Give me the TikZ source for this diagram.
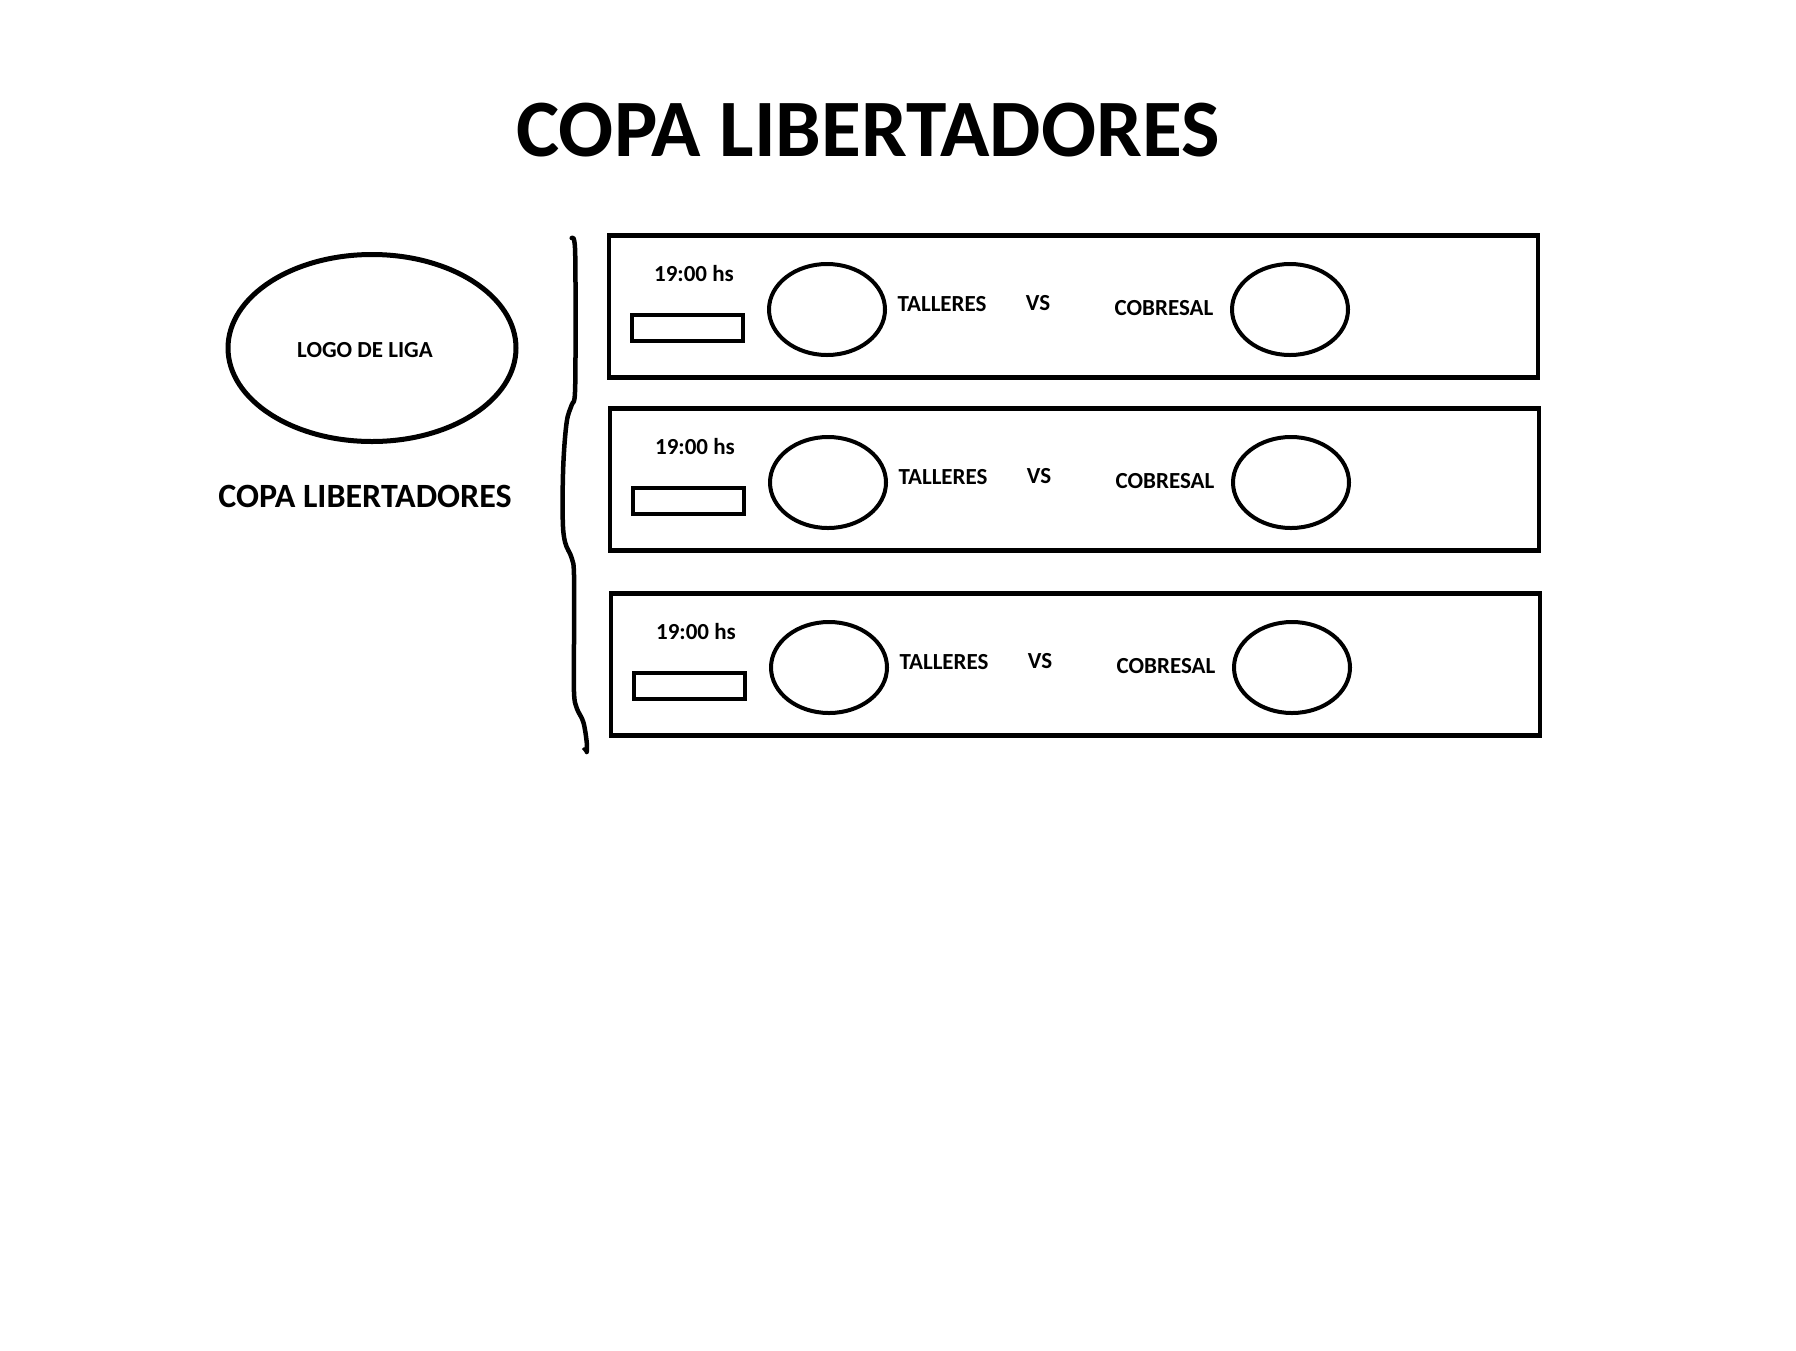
\documentclass[tikz,border=0pt]{standalone}
\usepackage{fontspec}
\setmainfont{Carlito}
\usetikzlibrary{shapes.geometric}
\begin{document}
\begin{tikzpicture}[x=1pt,y=-1pt,
  lbl/.style={font=\fontsize{23}{26}\selectfont\bfseries, anchor=base, inner sep=0pt},
  matchbox/.style={draw, line width=4.5pt, minimum width=929pt, minimum height=142pt, inner sep=0pt},
  timebox/.style={draw, line width=4.5pt, minimum width=111pt, minimum height=26pt, inner sep=0pt},
  crest/.style={draw, ellipse, line width=4pt, minimum width=116pt, minimum height=91pt, inner sep=0pt},
  logo/.style={draw, ellipse, line width=5pt, minimum width=288pt, minimum height=187pt, inner sep=0pt}]
\useasboundingbox[fill=white] (0,0) rectangle (1796,1350);
% title
\node[font=\fontsize{81.5}{96}\selectfont\bfseries, anchor=base, inner sep=0pt] (title) at (868,156) {COPA LIBERTADORES};
% logo
\node[logo] (logo) at (372,348) {};
\node[lbl] (logotxt) at (365,357) {LOGO DE LIGA};
\node[font=\fontsize{34}{38}\selectfont\bfseries, anchor=base, inner sep=0pt] (caption) at (365,507) {COPA LIBERTADORES};
% wavy line
\draw[line width=4.5pt, line cap=round, line join=round] plot[smooth, tension=0.6] coordinates {
  (571.7,238) (575,248) (575.5,320) (575,392) (571.7,405) (566.7,422) (563.3,465) (562.7,518) (565,542)
  (571.7,558) (574,575) (574,640) (574,692) (576.7,708) (583.3,722) (586.7,742) (586.7,752)};
\draw[line width=3pt] (583,748) -- (586.7,752);
% rows
\foreach \i/\dx/\dy in {1/0/0, 2/1/173, 3/2/358}{
  \node[matchbox] (box\i) at (1073.5+\dx,306.5+\dy) {};
  \node[lbl] (time\i) at (694+\dx,281+\dy) {19:00 hs};
  \node[timebox] (tb\i) at (687.5+\dx,328+\dy) {};
  \node[crest] (c\i a) at (827+\dx,309.5+\dy) {};
  \node[lbl] (home\i) at (942+\dx,311+\dy) {TALLERES};
  \node[lbl] (vs\i) at (1038+\dx,310+\dy) {VS};
  \node[lbl] (away\i) at (1164+\dx,315+\dy) {COBRESAL};
  \node[crest] (c\i b) at (1290+\dx,309.5+\dy) {};
}
\end{tikzpicture}
\end{document}
